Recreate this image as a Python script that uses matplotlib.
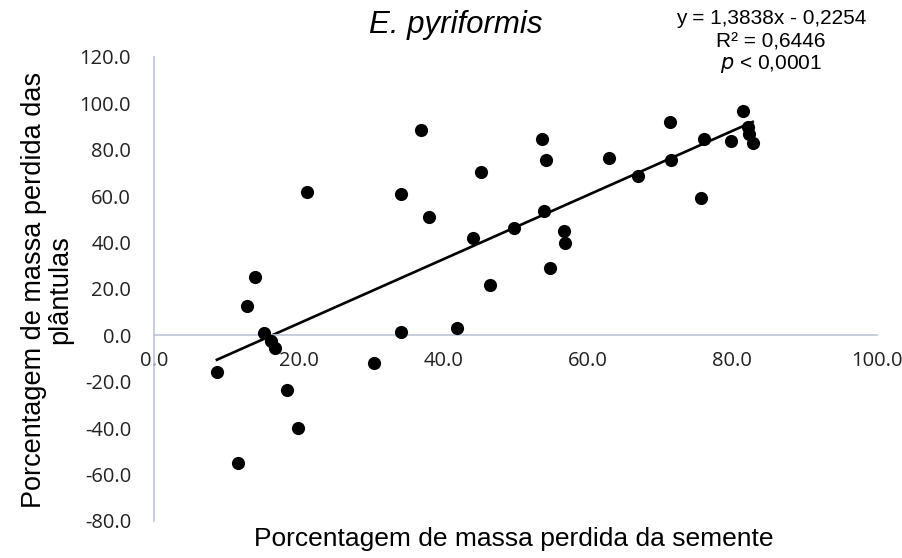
import matplotlib
matplotlib.use("Agg")
import matplotlib.pyplot as plt
import numpy as np

seed_loss = [8.7, 11.6, 12.8, 14.0, 15.2, 16.2, 16.7, 18.4, 19.9, 21.1, 30.4, 34.1,
             34.1, 36.9, 38.1, 41.9, 44.1, 45.2, 46.5, 49.8, 53.6, 54.0, 54.2, 54.8,
             56.7, 56.8, 62.9, 66.9, 71.4, 71.5, 75.6, 76.1, 79.8, 81.4, 82.1, 82.3, 82.8]
seedling_loss = [-15.7, -55.2, 12.7, 25.2, 0.9, -2.5, -5.3, -23.6, -39.9, 61.6, -12.1, 60.8,
                 1.6, 88.6, 51.1, 3.3, 41.9, 70.3, 21.7, 46.1, 84.8, 53.6, 75.7, 29.2,
                 44.9, 39.9, 76.3, 68.7, 92.0, 75.7, 59.2, 84.7, 83.7, 96.9, 89.7, 86.8, 82.8]
slope = 1.3838
intercept = -22.54
x_ticks = [0, 20, 40, 60, 80, 100]
y_ticks = [-80, -60, -40, -20, 0, 20, 40, 60, 80, 100, 120]

plt.rcParams['font.family'] = ['Liberation Sans', 'DejaVu Sans']

fig = plt.figure(figsize=(9.03, 5.58), dpi=100)
ax = fig.add_axes([154/903, 1-521/558, (877-154)/903, (521-57)/558])

ax.scatter(seed_loss, seedling_loss, s=90, color='black', zorder=3, linewidths=0)
xs = np.array([min(seed_loss), max(seed_loss)])
ax.plot(xs, slope*xs + intercept, color='black', lw=1.9, zorder=2)

ax.set_xlim(0, 100)
ax.set_ylim(-80, 120)
ax.set_xticks(x_ticks)
ax.set_yticks(y_ticks)
ax.set_xticklabels([f"{v:.1f}" for v in x_ticks])
ax.set_yticklabels([f"{v:.1f}" for v in y_ticks])

axis_color = '#BCC6D8'
for s in ['top', 'right']:
    ax.spines[s].set_visible(False)
ax.spines['bottom'].set_position(('data', 0))
ax.spines['bottom'].set_color(axis_color)
ax.spines['left'].set_color(axis_color)
ax.spines['bottom'].set_linewidth(1.2)
ax.spines['left'].set_linewidth(1.2)
ax.tick_params(axis='both', length=0, labelsize=14.5, colors='#333333', labelcolor='#222222')
ax.tick_params(axis='x', pad=11)
ax.tick_params(axis='y', pad=16.5)
for lab in ax.get_xticklabels() + ax.get_yticklabels():
    lab.set_family(['Open Sans', 'DejaVu Sans'])

fig.text(456/903, 1-25/558, "E. pyriformis", style='italic', fontsize=22.5,
         ha='center', va='center')
fig.text(771/903, 1-19/558, "y = 1,3838x - 0,2254", fontsize=15, ha='center', va='center')
fig.text(771/903, 1-42/558, "R² = 0,6446", fontsize=15, ha='center', va='center')
fig.text(771/903, 1-64/558, r"$\it{p}$ < 0,0001", fontsize=15, ha='center', va='center')

fig.text(514/903, 1-539/558, "Porcentagem de massa perdida da semente", fontsize=19,
         ha='center', va='center')
fig.text(47/903, 1-290/558, "Porcentagem de massa perdida das\nplântulas", fontsize=19.5,
         ha='center', va='center', rotation=90, linespacing=1.0)

fig.savefig("out.png", dpi=100)
